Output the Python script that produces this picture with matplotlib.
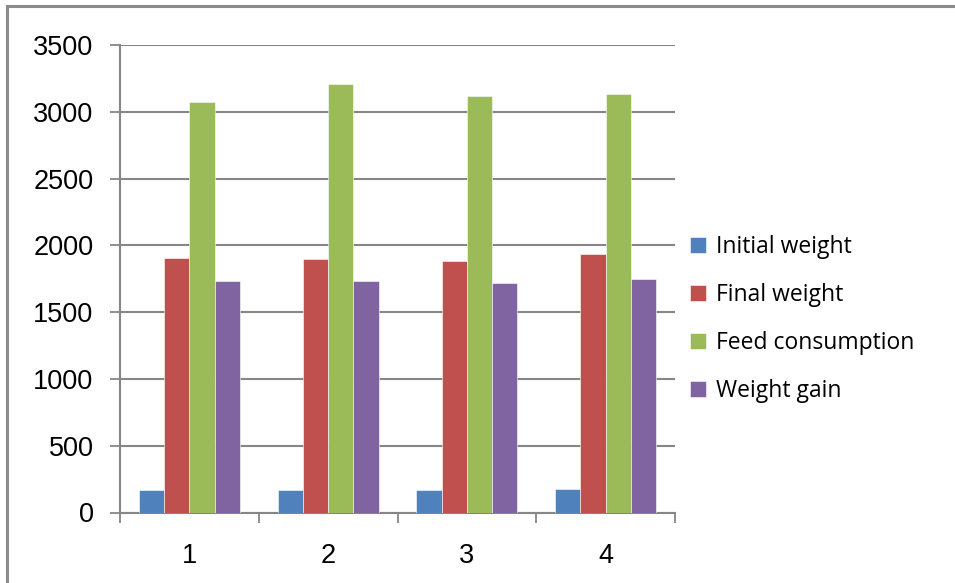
import matplotlib.pyplot as plt
import numpy as np
from matplotlib.lines import Line2D

groups = ["1", "2", "3", "4"]
series = ["Initial weight", "Final weight", "Feed consumption", "Weight gain"]
initial_weight = [165, 165, 165, 177]
final_weight = [1906, 1897, 1886, 1936]
feed_consumption = [3071, 3211, 3116, 3130]
weight_gain = [1734, 1732, 1717, 1747]
colors = ["#4F81BD", "#C0504D", "#9BBB59", "#8064A2"]

values = [initial_weight, final_weight, feed_consumption, weight_gain]

fig = plt.figure(figsize=(9.55, 5.83), dpi=100)
ax = fig.add_axes([120 / 955, 1 - 512.5 / 583, 555 / 955, 467.5 / 583])

x = np.arange(len(groups))
w = 1 / 5.5
for i, (name, vals) in enumerate(zip(series, values)):
    ax.bar(x + (i - 1.5) * w, vals, w, color=colors[i], label=name,
           edgecolor="white", linewidth=0.4, zorder=3)

ax.set_xlim(-0.5, 3.5)
ax.set_ylim(0, 3500)
ax.set_yticks(range(0, 3501, 500))
ax.yaxis.grid(True, color="#868686", linewidth=1.5, zorder=0)

ax.set_xticks(x)
ax.set_xticklabels(groups)
ax.set_xticks(np.arange(-0.5, 4, 1), minor=True)
ax.tick_params(axis="x", which="major", length=0, pad=22)
ax.tick_params(axis="x", which="minor", length=7, width=1.3, color="#868686")
ax.tick_params(axis="y", length=7, width=1.3, color="#868686", pad=12)
for lab in ax.get_xticklabels() + ax.get_yticklabels():
    lab.set_fontfamily("Liberation Sans")
    lab.set_fontsize(19.5)

for s in ["top", "right"]:
    ax.spines[s].set_visible(False)
for s in ["left", "bottom"]:
    ax.spines[s].set_color("#868686")
    ax.spines[s].set_linewidth(1.5)

leg = fig.legend(loc="center left", bbox_to_anchor=(669 / 955, 1 - 319 / 583),
                 frameon=False, prop={"family": "Open Sans", "size": 16.5},
                 handlelength=0.7, handleheight=0.7, handletextpad=0.45,
                 labelspacing=1.05)

# chart area border along top and left edges
fig.add_artist(Line2D([7 / 955, 7 / 955], [0, 1 - 6 / 583], color="#8c8c8c", linewidth=2.2))
fig.add_artist(Line2D([7 / 955, 953 / 955], [1 - 6 / 583, 1 - 6 / 583], color="#8c8c8c", linewidth=2.2))

fig.savefig("out.png", dpi=100)
